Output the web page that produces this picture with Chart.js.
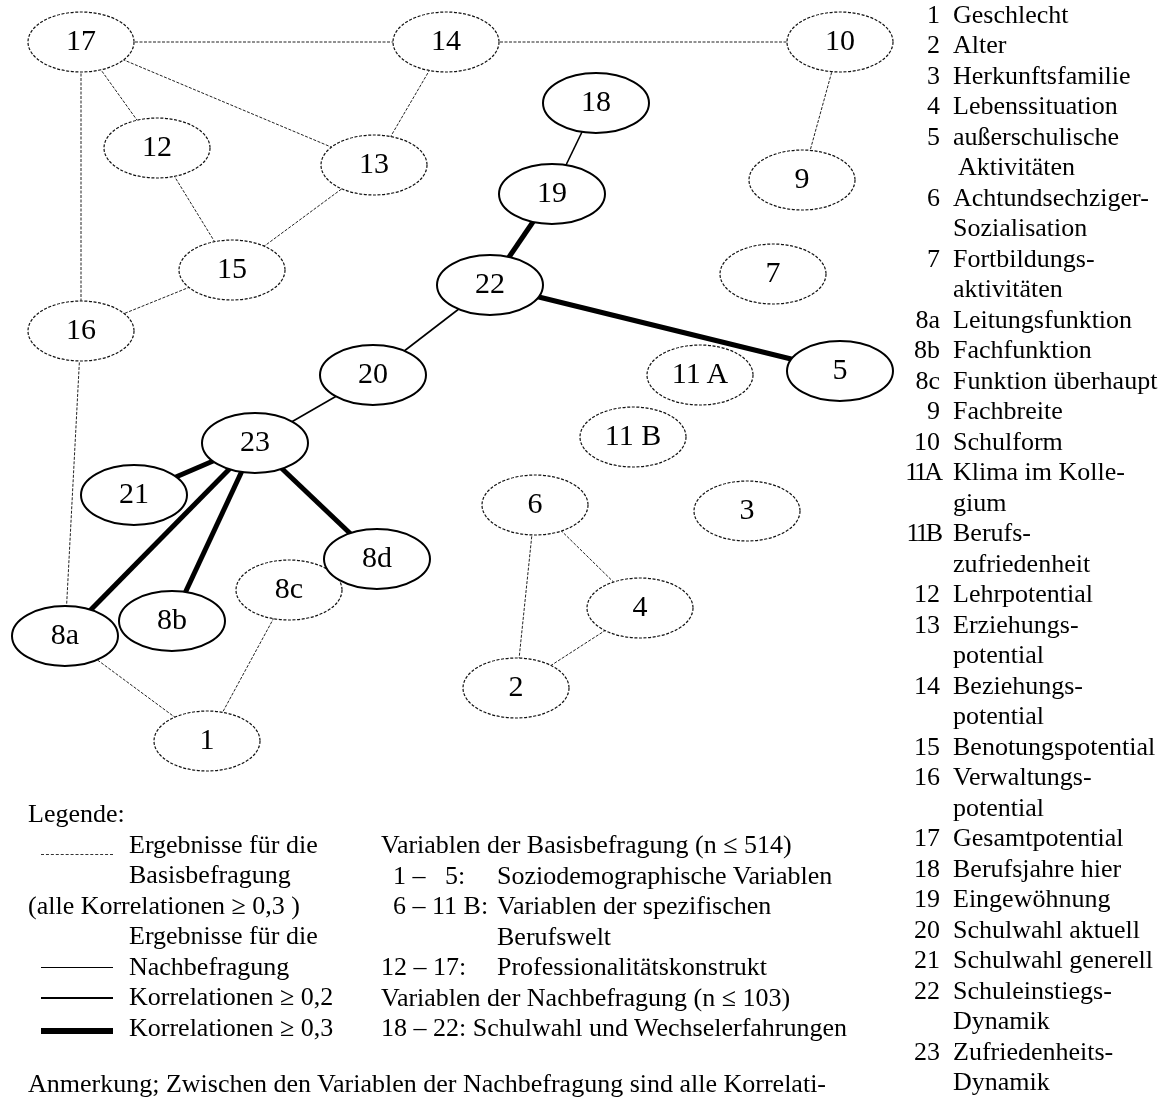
<!DOCTYPE html>
<html><head><meta charset="utf-8">
<script src="https://cdn.jsdelivr.net/npm/chart.js@4/dist/chart.umd.min.js"></script>
<style>
html,body{margin:0;padding:0;background:#fff;}
#wrap{position:relative;width:1166px;height:1102px;overflow:hidden;font-family:'Liberation Serif','Times New Roman',serif;color:#000;}
#c{position:absolute;left:0;top:0;}
.t{position:absolute;white-space:pre;}
.ls{position:absolute;left:41px;width:72px;}
</style></head>
<body><div id="wrap"><canvas id="c" width="1166" height="1102"></canvas></div>
<script>
// ---- nodes (variables) ----
const nodeIds    = ['1','2','3','4','5','6','7','8a','8b','8c','8d','9','10','11A','11B','12','13','14','15','16','17','18','19','20','21','22','23'];
const nodeLabels = ['1','2','3','4','5','6','7','8a','8b','8c','8d','9','10','11 A','11 B','12','13','14','15','16','17','18','19','20','21','22','23'];
const nodeX      = [207,516,747,640,840,535,773,65,172,289,377,802,840,700,633,157,374,446,232,81,81,596,552,373,134,490,255];
const nodeY      = [741,688,511,608,371,505,274,636,621,590,559,180,42,375,437,148,165,42,270,331,42,103,194,375,495,285,443];
const nodeGroup  = ['basis','basis','basis','basis','nach','basis','basis','nach','nach','basis','nach','basis','basis','basis','basis','basis','basis','basis','basis','basis','basis','nach','nach','nach','nach','nach','nach'];

// ---- edges (correlations) ----
const edgeFrom = ['17','14','17','17','14','12','13','15','17','16','10','8a','8c','6','6','4','18','22','20','19','22','23','23','23','23'];
const edgeTo   = ['14','10','12','13','13','15','15','16','16','8a','9','1','1','2','4','2','19','20','23','22','5','21','8a','8b','8d'];
const edgeKind = ['basis','basis','basis','basis','basis','basis','basis','basis','basis','basis','basis','basis','basis','basis','basis','basis','r02','r02','r02','r03','r03','r03','r03','r03','r03'];

// ---- variable list (right) ----
const listNumbers = ['1','2','3','4','5','','6','','7','','8a','8b','8c','9','10','11A','','11B','','12','13','','14','','15','16','','17','18','19','20','21','22','','23',''];
const listTexts = ['Geschlecht','Alter','Herkunftsfamilie','Lebenssituation','außerschulische',' Aktivitäten','Achtundsechziger-','Sozialisation','Fortbildungs-','aktivitäten','Leitungsfunktion','Fachfunktion','Funktion überhaupt','Fachbreite','Schulform','Klima im Kolle-','gium','Berufs-','zufriedenheit','Lehrpotential','Erziehungs-','potential','Beziehungs-','potential','Benotungspotential','Verwaltungs-','potential','Gesamtpotential','Berufsjahre hier','Eingewöhnung','Schulwahl aktuell','Schulwahl generell','Schuleinstiegs-','Dynamik','Zufriedenheits-','Dynamik'];

// ---- legend texts ----
const legendLeft = ['Legende:','Ergebnisse für die','Basisbefragung','(alle Korrelationen \u2265 0,3 )','Ergebnisse für die','Nachbefragung','Korrelationen \u2265 0,2','Korrelationen \u2265 0,3'];
const legendLeftIndent = [false,true,true,false,true,true,true,true];
const groupRanges = ['','1 \u2013   5:','6 \u2013 11 B:','','12 \u2013 17:','',''];
const groupTexts  = ['Variablen der Basisbefragung (n \u2264 514)','Soziodemographische Variablen','Variablen der spezifischen','Berufswelt','Professionalitätskonstrukt','Variablen der Nachbefragung (n \u2264 103)','18 \u2013 22: Schulwahl und Wechselerfahrungen'];
const noteText = 'Anmerkung; Zwischen den Variablen der Nachbefragung sind alle Korrelati-';

const wrap = document.getElementById('wrap');
function addText(str, x, baseline, size, align, extraCss) {
  const d = document.createElement('div');
  d.className = 't';
  d.textContent = str;
  d.style.fontSize = size + 'px';
  d.style.lineHeight = size + 'px';
  d.style.left = x + 'px';
  d.style.top = (baseline - size * 0.8375) + 'px';
  if (extraCss) d.style.cssText += extraCss;
  if (align === 'right') d.style.transform = 'translateX(-100%)';
  if (align === 'center') d.style.transform = 'translateX(-50%)';
  wrap.appendChild(d);
}

// ellipse marker images
function ellipseImg(dashed) {
  const cv = document.createElement('canvas');
  cv.width = 112; cv.height = 66;
  const g = cv.getContext('2d');
  g.beginPath();
  g.ellipse(56, 33, 53, 30, 0, 0, Math.PI * 2);
  g.fillStyle = '#fff';
  g.fill();
  if (dashed) { g.setLineDash([3, 1.6]); g.lineWidth = 1.2; g.strokeStyle = '#111'; }
  else { g.lineWidth = 2; g.strokeStyle = '#000'; }
  g.stroke();
  return cv;
}
const dashedEllipse = ellipseImg(true);
const solidEllipse = ellipseImg(false);

const idx = id => nodeIds.indexOf(id);
const pt = id => ({ x: nodeX[idx(id)], y: nodeY[idx(id)] });

const edgeStyle = {
  basis: { borderColor: '#222', borderWidth: 1, borderDash: [3, 1.5] },
  r02:   { borderColor: '#000', borderWidth: 1.6, borderDash: [] },
  r03:   { borderColor: '#000', borderWidth: 5, borderDash: [] }
};

const datasets = [];
edgeFrom.forEach((f, i) => {
  const s = edgeStyle[edgeKind[i]];
  datasets.push({
    label: 'edge ' + f + '-' + edgeTo[i],
    data: [pt(f), pt(edgeTo[i])],
    showLine: true,
    borderColor: s.borderColor,
    borderWidth: s.borderWidth,
    borderDash: s.borderDash,
    borderCapStyle: 'butt',
    pointRadius: 0,
    order: 3
  });
});
datasets.push({
  label: 'Basisbefragung',
  data: nodeIds.filter((id, i) => nodeGroup[i] === 'basis').map(pt),
  pointStyle: dashedEllipse, pointRadius: 6, order: 2
});
datasets.push({
  label: 'Nachbefragung',
  data: nodeIds.filter((id, i) => nodeGroup[i] === 'nach').map(pt),
  pointStyle: solidEllipse, pointRadius: 6, order: 1
});

let labelsDone = false;
const nodeLabelPlugin = {
  id: 'nodeLabels',
  afterRender(chart) {
    if (labelsDone) return;
    labelsDone = true;
    const xs = chart.scales.x, ys = chart.scales.y;
    nodeIds.forEach((id, i) => {
      addText(nodeLabels[i], xs.getPixelForValue(nodeX[i]), ys.getPixelForValue(nodeY[i]) + 8, 30, 'center');
    });
  }
};

new Chart(document.getElementById('c'), {
  type: 'scatter',
  data: { datasets },
  options: {
    responsive: false, animation: false, events: [],
    layout: { padding: 0, autoPadding: false },
    plugins: { legend: { display: false }, tooltip: { enabled: false } },
    scales: {
      x: { type: 'linear', min: 0, max: 1166, display: false },
      y: { type: 'linear', min: 0, max: 1102, reverse: true, display: false }
    }
  },
  plugins: [nodeLabelPlugin]
});

// right list
const LH = 30.5, FS = 26;
listTexts.forEach((t, i) => {
  const b = 23.5 + i * LH;
  const n = listNumbers[i];
  if (n) addText(n, 940, b, FS, 'right', n.length === 3 ? 'letter-spacing:-3px;' : '');
  addText(t, 953, b, FS, 'left');
});

// legend left
legendLeft.forEach((t, i) => {
  addText(t, legendLeftIndent[i] ? 129 : 28, 823 + i * LH, FS, 'left');
});
// legend middle
groupTexts.forEach((t, i) => {
  const b = 854 + i * LH;
  if (groupRanges[i]) {
    addText(groupRanges[i], groupRanges[i].startsWith('12') ? 381 : 393, b, FS, 'left');
    addText(t, 497, b, FS, 'left');
  } else if (i === 3) {
    addText(t, 497, b, FS, 'left');
  } else {
    addText(t, 381, b, FS, 'left');
  }
});
addText(noteText, 28, 1093, FS, 'left');

// legend line samples
function sample(top, css) {
  const d = document.createElement('div');
  d.className = 'ls';
  d.style.top = top + 'px';
  d.style.cssText += css;
  wrap.appendChild(d);
}
sample(854, 'border-top:1px dashed #333;');
sample(967, 'height:1px;background:#000;');
sample(997, 'height:2px;background:#000;');
sample(1028, 'height:6px;background:#000;');
</script>
</body></html>
